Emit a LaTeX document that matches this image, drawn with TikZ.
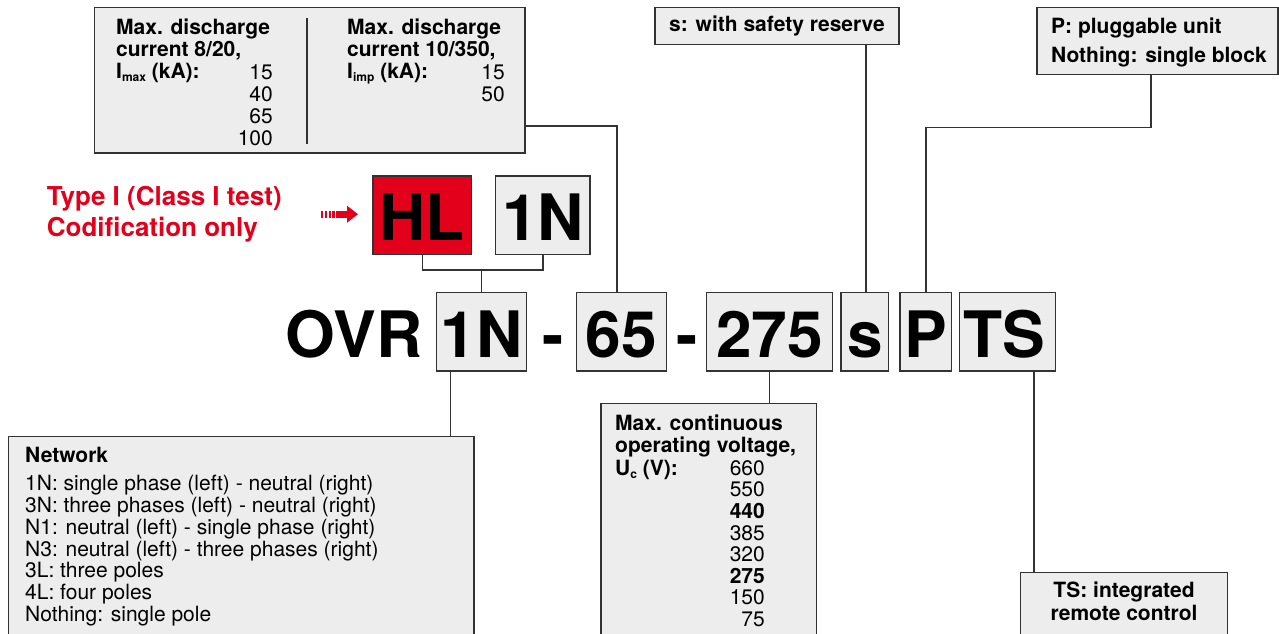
\documentclass[tikz,border=0pt]{standalone}
\usepackage{fontspec}
\setmainfont{TeX Gyre Heros}
\definecolor{abbred}{HTML}{E2001A}
\definecolor{boxfill}{HTML}{EDEDED}
\definecolor{linec}{HTML}{333333}
\newcommand{\lowsub}[1]{{\fontsize{12}{12}\selectfont\raisebox{-3pt}{#1}}}
\begin{document}
\begin{tikzpicture}[x=1pt,y=-1pt,
  box/.style={draw=linec, line width=1.3pt, fill=boxfill, inner sep=0pt, outer sep=0pt, anchor=north west},
  conn/.style={draw=linec, line width=1.3pt},
  big/.style={font=\fontsize{64}{64}\selectfont\bfseries, inner sep=0pt, anchor=base},
  txt/.style={font=\fontsize{21}{22}\selectfont, inner sep=0pt},
  txtb/.style={font=\fontsize{21}{22}\selectfont\bfseries, inner sep=0pt},
  txtn/.style={font=\fontsize{21}{21.6}\selectfont, inner sep=0pt},
  txtnb/.style={font=\fontsize{21}{22.5}\selectfont\bfseries, inner sep=0pt},
  redt/.style={font=\fontsize{26}{30}\selectfont\bfseries, text=abbred, inner sep=0pt}
]
\clip (0,0) rectangle (1279,633);
% ---- upper boxes
\node[box, minimum width=430.7pt, minimum height=145.7pt] (maxd) at (94.3,7.3) {};
\node[box, minimum width=244pt, minimum height=37.5pt] (sbox) at (655,7.3) {};
\node[box, minimum width=241pt, minimum height=67pt] (pbox) at (1037,7.3) {};
\draw[conn] (307,18) -- (307,144);
\node[txtb, anchor=base west] (maxdL) at (116,34.5) {\begin{tabular}[t]{@{}l@{}}Max. discharge\\current 8/20,\\I\lowsub{max} (kA):\end{tabular}};
\node[txt, anchor=base east] (maxdN) at (273,79) {\begin{tabular}[t]{@{}r@{}}15\\40\\65\\100\end{tabular}};
\node[txtb, anchor=base west] (impL) at (347,34.5) {\begin{tabular}[t]{@{}l@{}}Max. discharge\\current 10/350,\\I\lowsub{imp} (kA):\end{tabular}};
\node[txt, anchor=base east] (impN) at (505,79) {\begin{tabular}[t]{@{}r@{}}15\\50\end{tabular}};
\node[txtb, anchor=base] (stxt) at (777,31) {s: with safety reserve};
\node[txtb, anchor=base west] (ptxt1) at (1051,33) {P: pluggable unit};
\node[txtb, anchor=base west] (ptxt2) at (1051,62) {Nothing: single block};
% ---- red label and arrow
\node[redt, anchor=base west] (red1) at (46.7,205.5) {Type I (Class I test)};
\node[redt, anchor=base west] (red2) at (46.7,236.5) {Codification only};
\foreach \bx in {321,324.8,328.6,332.4}{\fill[abbred] (\bx,211) rectangle ++(2.2,6.5);}
\fill[abbred] (336,211) rectangle (347.5,217.5);
\fill[abbred] (347,205.7) -- (358,214.2) -- (347,222.7) -- cycle;
% ---- HL / 1N
\node[box, fill=abbred, minimum width=98.3pt, minimum height=78.7pt] (hl) at (373,176) {};
\node[box, minimum width=94.3pt, minimum height=78.7pt] (ntop) at (495.7,176) {};
\node[big] (hlt) at (422.2,240) {HL};
\node[big] (ntopt) at (542.9,240) {1N};
% ---- code row
\node[big, anchor=base west] (ovr) at (285.5,357) {OVR};
\node[box, minimum width=90pt, minimum height=78.3pt] (c1n) at (436.7,292.7) {};
\node[box, minimum width=89.6pt, minimum height=78.3pt] (c65) at (576.7,292.7) {};
\node[box, minimum width=126pt, minimum height=78.3pt] (c275) at (706.7,292.7) {};
\node[box, minimum width=47.7pt, minimum height=78.3pt] (cs) at (841,292.7) {};
\node[box, minimum width=51.7pt, minimum height=78.3pt] (cp) at (900,292.7) {};
\node[box, minimum width=96.4pt, minimum height=78.3pt] (cts) at (959.3,292.7) {};
\node[big] (c1nt) at (481.7,357) {1N};
\node[big] (dash1) at (553.5,357) {-};
\node[big] (c65t) at (621.5,357) {65};
\node[big] (dash2) at (687,357) {-};
\node[big] (c275t) at (769.7,357) {275};
\node[big] (cst) at (864.8,357) {s};
\node[big] (cpt) at (925.8,357) {P};
\node[big] (ctst) at (1004.5,357) {TS};
% ---- lower boxes
\node[box, minimum width=465.7pt, minimum height=230pt] (net) at (8.3,436.7) {};
\node[box, minimum width=215.7pt, minimum height=260pt] (volt) at (601,403.3) {};
\node[box, minimum width=207pt, minimum height=100pt] (tsbox) at (1020.7,572.3) {};
\node[txtb, anchor=base west] (nethead) at (25,462) {Network};
\node[txtn, anchor=base west] (netlines) at (25,490.5) {\begin{tabular}[t]{@{}l@{}}1N: single phase (left) - neutral (right)\\3N: three phases (left) - neutral (right)\\N1: neutral (left) - single phase (right)\\N3: neutral (left) - three phases (right)\\3L: three poles\\4L: four poles\\Nothing: single pole\end{tabular}};
\node[txtnb, anchor=base west] (voltL) at (615,430) {\begin{tabular}[t]{@{}l@{}}Max. continuous\\operating voltage,\\U\lowsub{c} (V):\end{tabular}};
\node[txtn, anchor=base east] (voltN) at (765,475.2) {\begin{tabular}[t]{@{}r@{}}660\\550\\\textbf{440}\\385\\320\\\textbf{275}\\150\\75\end{tabular}};
\node[txtb, anchor=base] (tst1) at (1124,597.7) {TS: integrated};
\node[txtb, anchor=base] (tst2) at (1124,620) {remote control};
% ---- connectors
\coordinate (brk) at ([yshift=22.7pt]c1n.north);
\draw[conn] (hl.south) |- (brk) -| (ntop.south);
\draw[conn] (brk) -- (c1n.north);
\draw[conn] ([yshift=27pt]maxd.south east) -| ([xshift=-4.5pt]c65.north);
\draw[conn] ([xshift=1pt]cs.north) -- ([xshift=1pt]cs.north |- sbox.south);
\coordinate (pj) at (1151,127.7);
\draw[conn] (cp.north) |- (pj) -- (pj |- pbox.south);
\draw[conn] (c275.south) -- (c275.south |- volt.north);
\draw[conn] ([xshift=-31pt]c1n.south) -- ([xshift=-31pt]c1n.south |- net.north);
\draw[conn] ([xshift=26.5pt]cts.south) -- ([xshift=26.5pt]cts.south |- tsbox.north);
\end{tikzpicture}
\end{document}
